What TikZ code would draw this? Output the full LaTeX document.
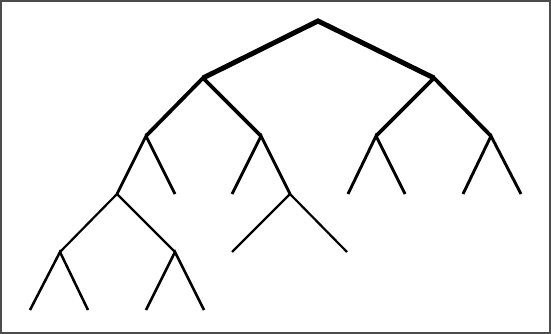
\documentclass[tikz,border=0pt]{standalone}
\begin{document}
\begin{tikzpicture}[x=1pt,y=-1pt,
  e0/.style={line width=5pt},
  e1/.style={line width=3.8pt},
  e2/.style={line width=2.9pt},
  e3/.style={line width=2.2pt},
  e4/.style={line width=2.5pt}]
\draw[line width=1.6pt, black!70] (0.8,0.8) rectangle (550.2,333.2);
\useasboundingbox (0,0) rectangle (551,334);
\coordinate (r) at (318,21);
\coordinate (a) at (203,78);
\coordinate (b) at (434,78);
\coordinate (aa) at (146,136);
\coordinate (ab) at (261,136);
\coordinate (ba) at (376,136);
\coordinate (bb) at (491,136);
\coordinate (aaa) at (117,194);
\coordinate (aab) at (175,194);
\coordinate (aba) at (232,194);
\coordinate (abb) at (290,194);
\coordinate (baa) at (348,194);
\coordinate (bab) at (405,194);
\coordinate (bba) at (463,194);
\coordinate (bbb) at (521,194);
\coordinate (aaaa) at (60,252);
\coordinate (aaab) at (175,252);
\coordinate (abba) at (232,252);
\coordinate (abbb) at (347,252);
\coordinate (x1) at (30,310);
\coordinate (x2) at (88,310);
\coordinate (x3) at (146,310);
\coordinate (x4) at (204,310);
\draw[e0] (a) -- (r) -- (b);
\draw[e1] (aa) -- (a) -- (ab);
\draw[e1] (ba) -- (b) -- (bb);
\draw[e2] (aaa) -- (aa) -- (aab);
\draw[e2] (aba) -- (ab) -- (abb);
\draw[e2] (baa) -- (ba) -- (bab);
\draw[e2] (bba) -- (bb) -- (bbb);
\draw[e3] (aaaa) -- (aaa) -- (aaab);
\draw[e3] (abba) -- (abb) -- (abbb);
\draw[e4] (x1) -- (aaaa) -- (x2);
\draw[e4] (x3) -- (aaab) -- (x4);
\end{tikzpicture}
\end{document}
